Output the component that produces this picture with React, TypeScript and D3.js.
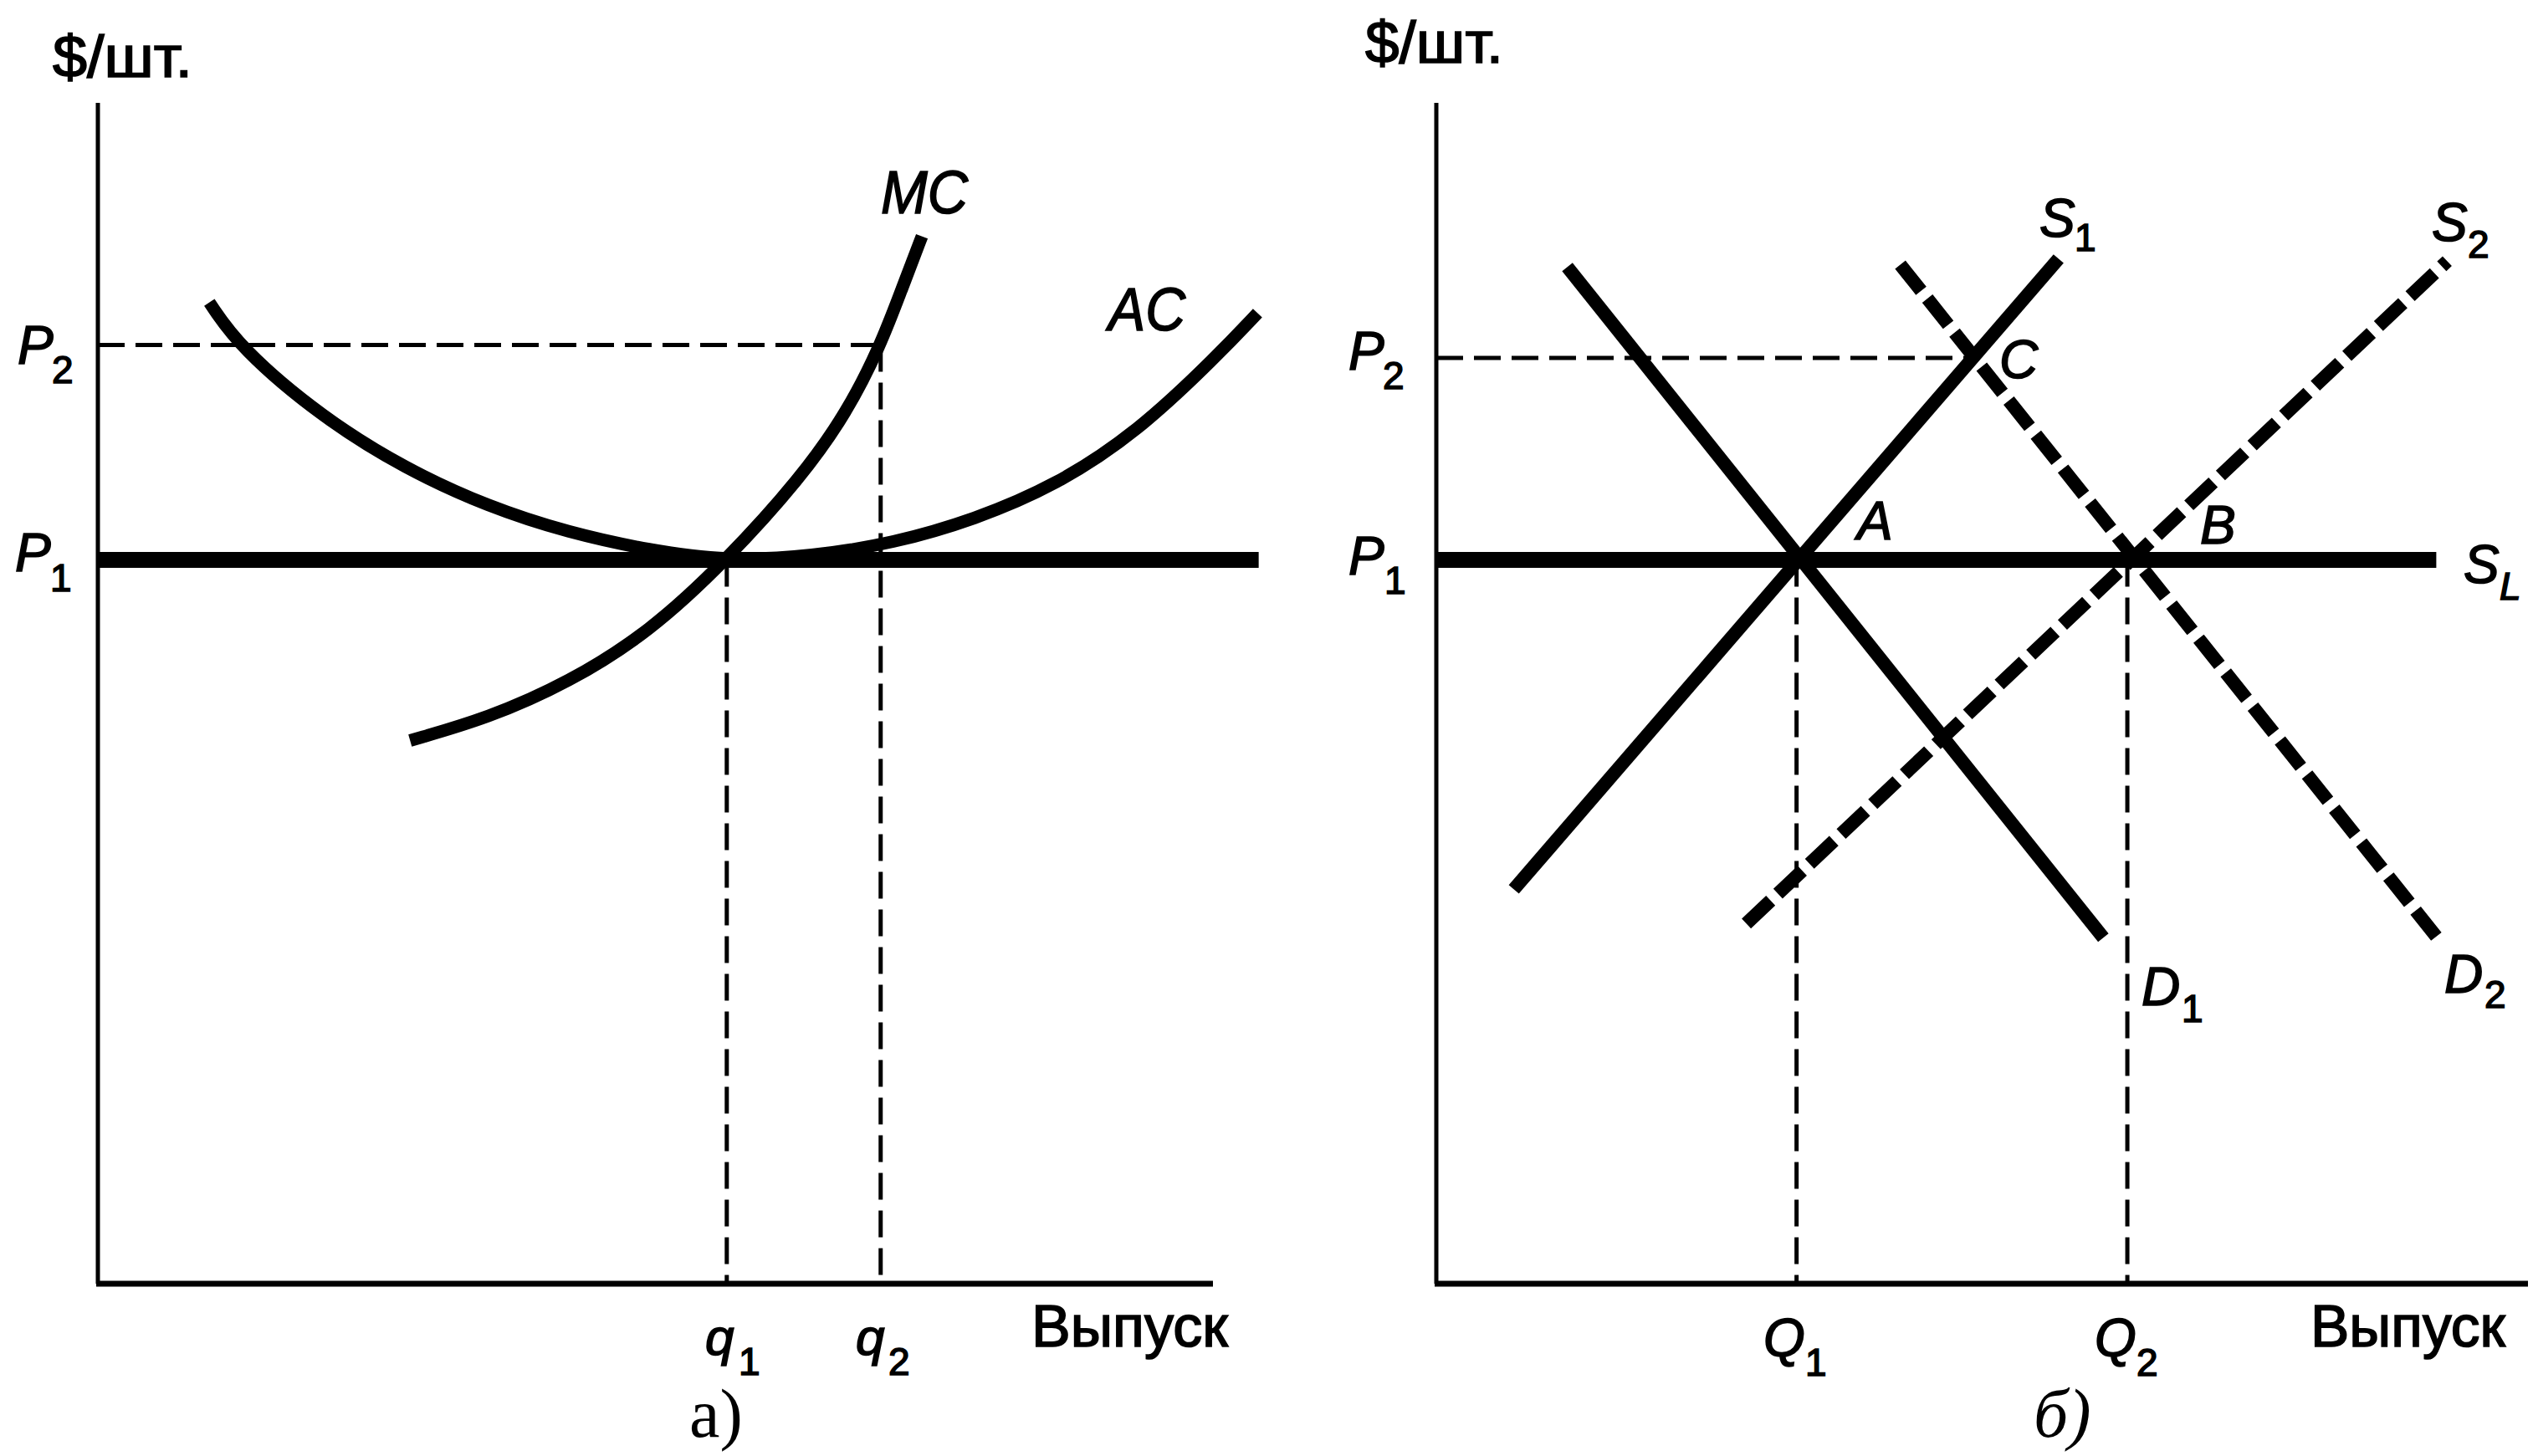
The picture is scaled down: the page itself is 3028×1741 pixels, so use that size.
import React from 'react';
import * as d3 from 'd3';

const W = 3028;
const H = 1741;

// ---------- panel а) : firm ----------
const mcOutput = [2.80, 3.50, 4.22, 4.95, 5.64, 6.30, 6.72, 7.02, 7.20, 7.39];
const mcCost = [4.60, 4.79, 5.09, 5.52, 6.13, 6.82, 7.38, 7.95, 8.40, 8.87];
const acOutput = [1.00, 1.27, 2.02, 2.76, 3.50, 4.22, 4.95, 5.64, 6.41, 7.13, 7.86, 8.59, 9.32, 10.04, 10.40];
const acCost = [8.31, 7.93, 7.33, 6.90, 6.58, 6.36, 6.21, 6.12, 6.16, 6.27, 6.47, 6.76, 7.21, 7.86, 8.22];
const priceP1 = 6.13;
const priceP2a = 7.95;
const outQ1a = 5.64;
const outQ2a = 7.02;
const p1LineEndA = 10.41;

// ---------- panel б) : industry ----------
const priceP2b = 7.84;
const outQ1b = 3.30;
const outQ2b = 6.33;
const outC = 4.93;
const s1Output = [0.71, 5.70];
const s1Price = [3.34, 8.68];
const d1Output = [1.20, 6.11];
const d1Price = [8.61, 2.93];
const s2Output = [2.84, 9.26];
const s2Price = [3.05, 8.66];
const d2Output = [4.25, 9.16];
const d2Price = [8.63, 2.94];
const slEnd = 9.16;

const yLabel = '$/шт.';
const xLabel = 'Выпуск';

const SANS = '"Liberation Sans", Arial, Helvetica, sans-serif';
const SERIF = '"Liberation Serif", "Times New Roman", serif';

const y = d3.scaleLinear().domain([0, 10]).range([1535, 123]);
const xA = d3.scaleLinear().domain([0, 10]).range([117, 1450]);
const xB = d3.scaleLinear().domain([0, 10]).range([1717, 3022]);

function pathOf(xs: number[], ys: number[], xs_: d3.ScaleLinear<number, number>, curve: any) {
  const pts: [number, number][] = xs.map((v, i) => [v, ys[i]]);
  return d3.line<[number, number]>().x(d => xs_(d[0])).y(d => y(d[1])).curve(curve)(pts) || '';
}

const heavy = { stroke: '#000', strokeWidth: 1.6 } as const;

const Lbl = (p: { x: number; y: number; t: string; sub?: string; sx?: number; sy?: number; size?: number; subSize?: number; subItalic?: boolean }) => (
  <g>
    <text x={p.x} y={p.y} fontFamily={SANS} fontSize={p.size ?? 64} fontStyle="italic" fill="#000" {...heavy}>{p.t}</text>
    {p.sub && (
      <text x={p.sx} y={p.sy} fontFamily={SANS} fontSize={p.subSize ?? 46} fontStyle={p.subItalic ? 'italic' : 'normal'} fill="#000" {...heavy}>{p.sub}</text>
    )}
  </g>
);

export default function App() {
  const thin = { stroke: '#000', strokeWidth: 5, fill: 'none', strokeDasharray: '32 13' } as const;
  const thickDash = { stroke: '#000', strokeWidth: 16, fill: 'none', strokeDasharray: '40 12' } as const;
  const solid = { stroke: '#000', strokeWidth: 15, fill: 'none' } as const;

  return (
    <svg width={W} height={H} viewBox={`0 0 ${W} ${H}`} style={{ position: 'absolute', left: 0, top: 0, display: 'block', background: '#fff' }}>
      <rect x={0} y={0} width={W} height={H} fill="#fff" />

      {/* ===== Panel а) ===== */}
      <line x1={xA(0)} x2={xA(outQ2a)} y1={y(priceP2a)} y2={y(priceP2a)} {...thin} />
      <line x1={xA(outQ1a)} x2={xA(outQ1a)} y1={y(priceP1)} y2={y(0)} {...thin} />
      <line x1={xA(outQ2a)} x2={xA(outQ2a)} y1={y(priceP2a)} y2={y(0)} {...thin} />
      <line x1={xA(0)} x2={xA(0)} y1={y(10)} y2={y(0)} stroke="#000" strokeWidth={5} />
      <line x1={xA(0) - 2} x2={xA(10)} y1={y(0)} y2={y(0)} stroke="#000" strokeWidth={7} />
      <line x1={xA(0)} x2={xA(p1LineEndA)} y1={y(priceP1)} y2={y(priceP1)} stroke="#000" strokeWidth={19} />
      <path d={pathOf(acOutput, acCost, xA, d3.curveBasis)} {...solid} />
      <path d={pathOf(mcOutput, mcCost, xA, d3.curveBasis)} {...solid} />

      <text x={63} y={92} fontFamily={SANS} fontSize={70} textLength={167} lengthAdjust="spacingAndGlyphs" {...heavy}>{yLabel}</text>
      <text x={1053} y={255} fontFamily={SANS} fontSize={72} fontStyle="italic" textLength={104} lengthAdjust="spacingAndGlyphs" {...heavy}>MC</text>
      <text x={1325} y={395} fontFamily={SANS} fontSize={72} fontStyle="italic" textLength={92} lengthAdjust="spacingAndGlyphs" {...heavy}>AC</text>
      <Lbl x={21} y={435} t="P" sub="2" sx={62} sy={458} />
      <Lbl x={18} y={683} t="P" sub="1" sx={60} sy={707} />
      <Lbl x={843} y={1620} t="q" sub="1" sx={883} sy={1644} size={62} />
      <Lbl x={1023} y={1620} t="q" sub="2" sx={1062} sy={1644} size={62} />
      <text x={1233} y={1610} fontFamily={SANS} fontSize={70} textLength={235} lengthAdjust="spacingAndGlyphs" {...heavy}>{xLabel}</text>
      <text x={824} y={1718} fontFamily={SERIF} fontSize={82}>а)</text>

      {/* ===== Panel б) ===== */}
      <line x1={xB(0)} x2={xB(outC)} y1={y(priceP2b)} y2={y(priceP2b)} {...thin} />
      <line x1={xB(outQ1b)} x2={xB(outQ1b)} y1={y(priceP1)} y2={y(0)} {...thin} />
      <line x1={xB(outQ2b)} x2={xB(outQ2b)} y1={y(priceP1)} y2={y(0)} {...thin} />
      <line x1={xB(0)} x2={xB(0)} y1={y(10)} y2={y(0)} stroke="#000" strokeWidth={5} />
      <line x1={xB(0) - 2} x2={xB(10)} y1={y(0)} y2={y(0)} stroke="#000" strokeWidth={7} />
      <line x1={xB(0)} x2={xB(slEnd)} y1={y(priceP1)} y2={y(priceP1)} stroke="#000" strokeWidth={19} />
      <path d={pathOf(s1Output, s1Price, xB, d3.curveLinear)} {...solid} strokeWidth={16} />
      <path d={pathOf(d1Output, d1Price, xB, d3.curveLinear)} {...solid} strokeWidth={16} />
      <path d={pathOf(s2Output, s2Price, xB, d3.curveLinear)} {...thickDash} />
      <path d={pathOf(d2Output, d2Price, xB, d3.curveLinear)} {...thickDash} />

      <text x={1632} y={75} fontFamily={SANS} fontSize={70} textLength={165} lengthAdjust="spacingAndGlyphs" {...heavy}>{yLabel}</text>
      <Lbl x={1612} y={442} t="P" sub="2" sx={1653} sy={465} />
      <Lbl x={1612} y={687} t="P" sub="1" sx={1655} sy={710} />
      <Lbl x={2220} y={645} t="A" />
      <Lbl x={2630} y={650} t="B" />
      <Lbl x={2390} y={452} t="C" />
      <Lbl x={2438} y={283} t="S" sub="1" sx={2480} sy={300} />
      <Lbl x={2907} y={288} t="S" sub="2" sx={2950} sy={308} />
      <Lbl x={2945} y={697} t="S" sub="L" sx={2988} sy={717} subItalic />
      <Lbl x={2560} y={1202} t="D" sub="1" sx={2608} sy={1222} />
      <Lbl x={2922} y={1187} t="D" sub="2" sx={2970} sy={1205} />
      <Lbl x={2108} y={1622} t="Q" sub="1" sx={2158} sy={1645} />
      <Lbl x={2504} y={1622} t="Q" sub="2" sx={2554} sy={1645} />
      <text x={2762} y={1610} fontFamily={SANS} fontSize={70} textLength={233} lengthAdjust="spacingAndGlyphs" {...heavy}>{xLabel}</text>
      <text x={2431} y={1718} fontFamily={SERIF} fontSize={82} fontStyle="italic">б)</text>
    </svg>
  );
}
